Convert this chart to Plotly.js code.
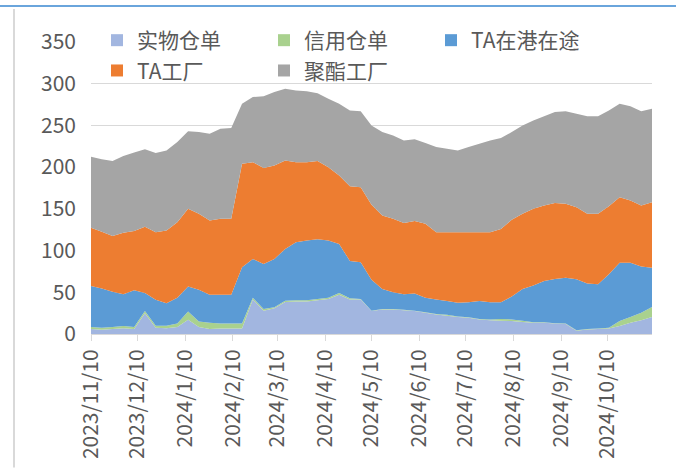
<!DOCTYPE html>
<html>
<head>
<meta charset="utf-8">
<script src="https://cdn.plot.ly/plotly-3.0.1.min.js"></script>
<style>
  html, body { margin: 0; padding: 0; background: #fff; }
  #chart { width: 676px; height: 468px; }
</style>
</head>
<body>
<div id="chart"></div>
<script>
// weekly dates
const dates = [
    '2023-11-10', '2023-11-17', '2023-11-24', '2023-12-01', '2023-12-08', '2023-12-15', '2023-12-22', '2023-12-29',
    '2024-01-05', '2024-01-12', '2024-01-19', '2024-01-26', '2024-02-02', '2024-02-09', '2024-02-16', '2024-02-23',
    '2024-03-01', '2024-03-08', '2024-03-15', '2024-03-22', '2024-03-29', '2024-04-05', '2024-04-12', '2024-04-19',
    '2024-04-26', '2024-05-03', '2024-05-10', '2024-05-17', '2024-05-24', '2024-05-31', '2024-06-07', '2024-06-14',
    '2024-06-21', '2024-06-28', '2024-07-05', '2024-07-12', '2024-07-19', '2024-07-26', '2024-08-02', '2024-08-09',
    '2024-08-16', '2024-08-23', '2024-08-30', '2024-09-06', '2024-09-13', '2024-09-20', '2024-09-27', '2024-10-04',
    '2024-10-11', '2024-10-18', '2024-10-25', '2024-11-01', '2024-11-08'
];

const shiwu = [6, 5, 6, 7, 6, 25, 7.5, 7, 8.5, 17, 8.5, 6, 6.5, 6.5, 6.5, 41.5, 28, 31, 38.5, 39, 39, 40.5, 42, 47,
    41.5, 41.5, 27.5, 29.5, 29.5, 28.5, 27.5, 25.5, 23.5, 22, 20.5, 19.5, 17.5, 16.5, 16, 15.5, 14.5, 13.5, 13.5,
    12.5, 12, 4, 5.5, 6, 6.5, 9.5, 13.5, 16.5, 20.5];
const xinyong = [2.5, 2.5, 2.5, 2.5, 2.5, 2.5, 2.5, 3, 4, 10, 6.5, 7.5, 6, 6, 6, 2, 2, 1, 1.5, 1.5, 1.5, 1.5, 1.5, 2,
    1.5, 0.5, 0.5, 0.5, 0.5, 0.5, 0.5, 0.5, 0.5, 1, 0.5, 0.5, 0.5, 1, 2, 2, 1.5, 0.5, 0.5, 0.5, 0.5, 0.5, 0.5, 0.5,
    1, 6, 7, 9, 12];
const zaigang = [49, 47, 42, 38, 44, 21.5, 31, 27, 31, 30, 38, 33.5, 34.5, 34.5, 67.5, 46.5, 54, 58, 62, 69.5, 71.5,
    71.5, 68.5, 59, 44.5, 44, 37, 24, 20, 18.5, 20.5, 17.5, 17.5, 16.5, 16.5, 18, 21.5, 20.5, 20, 27.5, 38, 44, 49.5,
    53, 55, 61, 54.5, 53, 64, 70, 65, 55.5, 47];
const taFactory = [70, 68, 67, 74, 71, 79.5, 81, 87, 90.5, 93, 91, 89, 91, 91, 124, 116, 115, 112, 106, 96, 94, 94,
    88, 82, 89.5, 90, 90, 88, 88, 85.5, 87, 88.5, 80.5, 82.5, 84.5, 84, 82.5, 84, 88, 92, 90, 92, 90.5, 91, 88.5,
    86.5, 83.5, 84.5, 81.5, 78.5, 74.5, 73, 78.5];
const polyester = [85, 87, 90, 92, 94, 93, 95, 96, 96, 93, 98, 104, 108, 109, 72, 78, 86, 88, 86, 86, 85, 81, 82, 86,
    91, 91, 95, 100, 100, 99, 98, 97, 102, 100, 98, 102, 106, 110, 109, 105, 106, 106, 107, 109, 111, 112, 117, 117,
    115, 112, 113, 113, 112];

const seriesNames = ['实物仓单', '信用仓单', 'TA在港在途', 'TA工厂', '聚酯工厂'];
const seriesColors = ['#a2b6e0', '#a9d18e', '#5b9bd5', '#ed7d31', '#a5a5a5'];
const seriesValues = [shiwu, xinyong, zaigang, taFactory, polyester];

const tickVals = ['2023-11-10', '2023-12-10', '2024-01-10', '2024-02-10', '2024-03-10', '2024-04-10',
    '2024-05-10', '2024-06-10', '2024-07-10', '2024-08-10', '2024-09-10', '2024-10-10'];
const tickText = ['2023/11/10', '2023/12/10', '2024/1/10', '2024/2/10', '2024/3/10', '2024/4/10',
    '2024/5/10', '2024/6/10', '2024/7/10', '2024/8/10', '2024/9/10', '2024/10/10'];

const FONT = '"Noto Sans CJK SC", "Noto Sans", sans-serif';
const TXT = '#595959';

const traces = seriesValues.map((vals, i) => ({
    x: dates,
    y: vals,
    type: 'scatter',
    mode: 'none',
    stackgroup: 'one',
    fillcolor: seriesColors[i],
    name: seriesNames[i],
    showlegend: false,
    hoverinfo: 'skip'
}));

// square legend keys
seriesNames.forEach((name, i) => {
    traces.push({
        x: [null],
        y: [null],
        type: 'scatter',
        mode: 'markers',
        marker: { symbol: 'square', size: 12, color: seriesColors[i] },
        name: name,
        showlegend: true
    });
});

// plot area: x 91..652, y 42..334
const L = 91, R = 652, T = 42, B = 334.3;
const px = v => (v - L) / (R - L);
const py = v => (B - v) / (B - T);

const layout = {
    width: 676,
    height: 468,
    autosize: false,
    margin: { l: L, r: 676 - R, t: T, b: 468 - B },
    paper_bgcolor: '#fff',
    plot_bgcolor: '#fff',
    font: { family: FONT, size: 21, color: TXT },
    showlegend: true,
    legend: {
        orientation: 'h',
        xref: 'paper',
        yref: 'paper',
        x: px(97),
        y: py(20),
        xanchor: 'left',
        yanchor: 'top',
        bgcolor: 'rgba(0,0,0,0)',
        entrywidth: 122,
        entrywidthmode: 'pixels',
        traceorder: 'normal',
        font: { family: FONT, size: 21, color: TXT }
    },
    xaxis: {
        type: 'date',
        range: ['2023-11-10', '2024-11-08'],
        tickmode: 'array',
        tickvals: tickVals,
        ticktext: tickText,
        tickangle: -90,
        showgrid: false,
        zeroline: false,
        showline: true,
        linecolor: '#d9d9d9',
        linewidth: 1,
        ticks: 'outside',
        ticklen: 6,
        tickcolor: '#d9d9d9',
        tickfont: { family: FONT, size: 21, color: TXT }
    },
    yaxis: {
        range: [0, 350],
        dtick: 50,
        tick0: 0,
        showgrid: true,
        gridcolor: '#d9d9d9',
        gridwidth: 1,
        zeroline: false,
        showline: false,
        ticks: '',
        ticklabelstandoff: 14,
        tickfont: { family: FONT, size: 21, color: TXT }
    },
    shapes: [
        // frame bits from the original screenshot
        { type: 'line', xref: 'paper', yref: 'paper', x0: px(0), x1: px(676), y0: py(6), y1: py(6),
          line: { color: '#6aa5dc', width: 2 } },
        { type: 'line', xref: 'paper', yref: 'paper', x0: px(14), x1: px(14), y0: py(9), y1: py(468),
          line: { color: '#d9d9d9', width: 2 } }
    ],
    hovermode: false
};

Plotly.newPlot('chart', traces, layout, { displayModeBar: false, staticPlot: true });
</script>
</body>
</html>
